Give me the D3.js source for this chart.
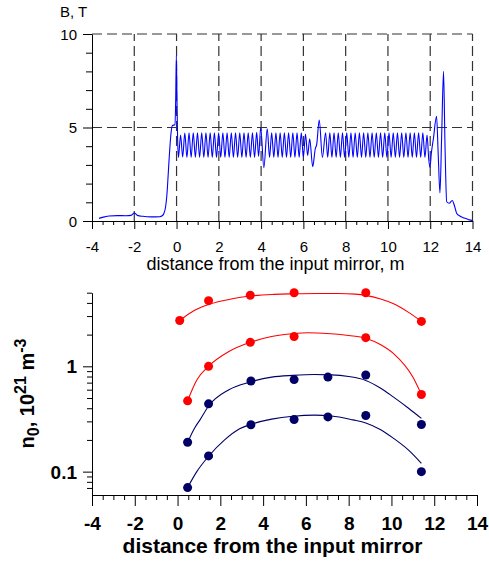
<!DOCTYPE html>
<html><head><meta charset="utf-8">
<script src="https://cdn.jsdelivr.net/npm/d3@7"></script>
<style>body{margin:0;background:#fff} svg{display:block}</style>
</head><body><svg id="c" width="489" height="563"></svg>
<script>
const FONT = '"Liberation Sans", Arial, sans-serif';

// ---------- top panel: magnetic field profile B(z) ----------
const fieldProfile = [
 [-3.67,0.14],[-3.4,0.22],[-3.2,0.27],[-2.8,0.29],[-2.4,0.28],[-2.15,0.3],[-2.0,0.43],[-1.85,0.3],
 [-1.6,0.25],[-1.2,0.22],[-0.8,0.23],[-0.68,0.28],[-0.6,0.4],[-0.52,0.75],[-0.45,1.5],[-0.4,2.4],
 [-0.33,3.7],[-0.27,4.6],[-0.2,5.1],[-0.08,5.15],[-0.04,6.5],[-0.01,8.85],[0.02,6.5],[0.05,4.4],
 [0.09,3.4],[0.19,4.6],[0.29,3.42],[0.39,4.7],[0.49,3.4],[0.59,4.72],[0.69,3.4],[0.79,4.72],
 [0.89,3.4],[0.99,4.72],[1.09,3.4],[1.19,4.72],[1.29,3.4],[1.39,4.72],[1.49,3.4],[1.59,4.72],
 [1.69,3.4],[1.79,4.72],[1.89,3.4],[1.99,4.72],[2.09,3.4],[2.19,4.72],[2.29,3.4],[2.39,4.72],
 [2.49,3.4],[2.59,4.72],[2.69,3.4],[2.79,4.72],[2.89,3.4],[2.99,4.72],[3.09,3.4],[3.19,4.72],
 [3.29,3.4],[3.39,4.72],[3.49,3.4],[3.59,4.72],[3.69,3.4],[3.79,4.75],[3.88,3.45],[3.98,5.0],
 [4.13,2.85],[4.29,4.93],[4.4,3.4],[4.5,4.72],[4.6,3.4],[4.7,4.72],[4.8,3.4],[4.9,4.72],
 [5.0,3.4],[5.1,4.72],[5.2,3.4],[5.3,4.72],[5.4,3.4],[5.5,4.72],[5.6,3.4],[5.7,4.72],
 [5.8,3.4],[5.9,4.72],[6.0,3.42],[6.1,4.65],[6.2,3.5],[6.3,4.4],[6.44,2.9],[6.56,3.85],
 [6.63,4.1],[6.75,5.4],[6.9,3.4],[7.05,4.72],[7.15,3.4],[7.25,4.72],[7.35,3.4],[7.45,4.72],
 [7.55,3.4],[7.65,4.72],[7.75,3.4],[7.85,4.72],[7.95,3.4],[8.05,4.72],[8.15,3.4],[8.25,4.72],
 [8.35,3.4],[8.45,4.72],[8.55,3.4],[8.65,4.72],[8.75,3.4],[8.85,4.72],[8.95,3.4],[9.05,4.72],
 [9.15,3.4],[9.25,4.72],[9.35,3.4],[9.45,4.72],[9.55,3.4],[9.65,4.72],[9.75,3.4],[9.85,4.72],
 [9.95,3.4],[10.05,4.72],[10.15,3.4],[10.25,4.72],[10.35,3.4],[10.45,4.72],[10.55,3.4],[10.65,4.72],
 [10.75,3.4],[10.85,4.72],[10.95,3.4],[11.05,4.72],[11.15,3.4],[11.25,4.72],[11.35,3.4],[11.45,4.72],
 [11.55,3.4],[11.65,4.72],[11.75,3.4],[11.85,4.6],[11.93,3.3],[11.99,2.87],[12.05,3.6],[12.15,4.4],
 [12.3,5.6],[12.38,3.5],[12.46,1.5],[12.54,4.5],[12.63,8.0],[12.7,4.0],[12.78,1.03],[12.9,0.95],
 [13.04,1.1],[13.15,0.8],[13.25,0.42],[13.4,0.27],[13.56,0.18],[13.72,0.12],[13.85,0.06],[14.0,0.02]
];
const topXTicks = [-4,-2,0,2,4,6,8,10,12,14];
const topYTicks = [0,5,10];
const topYMinor = [1,2,3,4,6,7,8,9];

// ---------- bottom panel: density n0 ----------
const redUpperPts = [[0.1,2.72],[1.45,4.2],[3.4,4.73],[5.45,5.0],[8.8,5.0],[11.4,2.67]];
const redLowerPts = [[0.47,0.47],[1.45,1.0],[3.4,1.69],[5.45,1.92],[8.8,1.87],[11.4,0.54]];
const blueUpperPts = [[0.47,0.19],[1.45,0.44],[3.43,0.726],[5.45,0.748],[7.03,0.79],[8.8,0.827],[11.4,0.28]];
const blueLowerPts = [[0.47,0.0706],[1.45,0.141],[3.43,0.279],[5.45,0.313],[7.03,0.331],[8.8,0.341],[11.4,0.1]];

const redUpperFit = [[0.1,2.72],[0.8,3.4],[1.45,3.86],[2.5,4.35],[3.4,4.65],[4.5,4.82],[5.4,4.88],[6.5,4.92],[7.5,4.92],[8.3,4.85],[8.8,4.72],[9.5,4.35],[10.1,3.92],[10.8,3.25],[11.4,2.67]];
const redLowerFit = [[0.47,0.47],[0.9,0.74],[1.45,1.0],[2.4,1.38],[3.4,1.69],[4.4,1.92],[5.4,2.04],[6.1,2.08],[7.0,2.05],[8.0,1.96],[8.8,1.85],[9.5,1.6],[10.1,1.32],[11.0,0.79],[11.4,0.54]];
const blueUpperFit = [[0.47,0.19],[0.8,0.26],[1.05,0.31],[1.45,0.42],[2.4,0.6],[3.4,0.71],[4.4,0.79],[5.4,0.82],[6.4,0.835],[7.2,0.83],[8.0,0.8],[8.8,0.735],[9.5,0.62],[10.1,0.51],[10.8,0.4],[11.4,0.32]];
const blueLowerFit = [[0.47,0.0706],[0.9,0.1],[1.45,0.14],[2.2,0.2],[2.9,0.255],[3.4,0.28],[4.4,0.315],[5.4,0.336],[6.4,0.344],[7.2,0.338],[8.2,0.31],[8.8,0.29],[9.5,0.25],[10.1,0.207],[10.8,0.16],[11.4,0.12]];

const botXTicks = [-4,-2,0,2,4,6,8,10,12,14];
const botYTicks = [0.1,1];
const botYMinor = [0.07,0.08,0.09,0.2,0.3,0.4,0.5,0.6,0.7,0.8,0.9,2,3,4,5];

const svg = d3.select("#c");

// ===== TOP =====
const xT = d3.scaleLinear().domain([-4,14]).range([92,472.5]);
const yT = d3.scaleLinear().domain([0,10]).range([221,34]);

const grid = svg.append("g").attr("stroke","#333").attr("stroke-width",1.2).attr("stroke-dasharray","10,5");
grid.selectAll("line.v").data(topXTicks.slice(1)).join("line")
  .attr("x1",d=>xT(d)).attr("x2",d=>xT(d)).attr("y1",yT(0)).attr("y2",yT(10));
grid.selectAll("line.h").data([5,10]).join("line")
  .attr("x1",xT(-4)).attr("x2",xT(14)).attr("y1",d=>yT(d)).attr("y2",d=>yT(d));

function styleAxis(g, size, bold){
  g.attr("font-family",FONT).attr("font-size",size).attr("font-weight",bold?"bold":null);
  g.selectAll("path,line").attr("stroke","#000").attr("stroke-width",1);
  g.selectAll("text").attr("fill","#000");
}

const topMinorX = d3.range(-4,14.01,0.5).filter(v=>Math.abs(v%2)>0.01);
svg.append("g").attr("transform",`translate(0,${yT(0)})`)
  .call(d3.axisBottom(xT).tickValues(topMinorX).tickSize(4).tickSizeOuter(0).tickFormat(""))
  .call(g=>{g.select(".domain").remove(); styleAxis(g,15);});
svg.append("g").attr("transform",`translate(0,${yT(0)})`)
  .call(d3.axisBottom(xT).tickValues(topXTicks).tickSize(8).tickSizeOuter(0).tickFormat(d=>String(d)))
  .call(g=>{styleAxis(g,15); g.selectAll("text").attr("y",31).attr("dy",null);});

svg.append("g").attr("transform",`translate(${xT(-4)},0)`)
  .call(d3.axisLeft(yT).tickValues(topYMinor).tickSize(6).tickSizeOuter(0).tickFormat(""))
  .call(g=>{g.select(".domain").remove(); styleAxis(g,15);});
svg.append("g").attr("transform",`translate(${xT(-4)},0)`)
  .call(d3.axisLeft(yT).tickValues(topYTicks).tickSize(9).tickSizeOuter(0).tickFormat(d=>String(d)))
  .call(g=>{styleAxis(g,15); g.selectAll("text").attr("x",-15).attr("dy","0.35em");});

svg.append("path").datum(fieldProfile)
  .attr("fill","none").attr("stroke","#0000ff").attr("stroke-width",1.1)
  .attr("d",d3.line().x(d=>xT(d[0])).y(d=>yT(d[1])).curve(d3.curveMonotoneX));

svg.append("text").attr("x",60).attr("y",17).attr("font-family",FONT).attr("font-size",15).text("B, T");
svg.append("text").attr("x",275.5).attr("y",270).attr("text-anchor","middle")
  .attr("font-family",FONT).attr("font-size",18).text("distance from the input mirror, m");

// ===== BOTTOM =====
const xB = d3.scaleLinear().domain([-4,14]).range([92,477]);
const yB = d3.scaleLog().domain([0.06,5]).range([495,292.7]);

const botMinorX = d3.range(-4,14.01,0.5).filter(v=>Math.abs(v%2)>0.01);
svg.append("g").attr("transform",`translate(0,495)`)
  .call(d3.axisBottom(xB).tickValues(botMinorX).tickSize(5).tickSizeOuter(0).tickFormat(""))
  .call(g=>{g.select(".domain").remove(); styleAxis(g,19,true);});
svg.append("g").attr("transform",`translate(0,495)`)
  .call(d3.axisBottom(xB).tickValues(botXTicks).tickSize(11).tickSizeOuter(0).tickFormat(d=>String(d)))
  .call(g=>{styleAxis(g,19,true); g.selectAll("text").attr("y",35).attr("dy",null);});

svg.append("g").attr("transform",`translate(${xB(-4)},0)`)
  .call(d3.axisLeft(yB).tickValues(botYMinor).tickSize(5).tickSizeOuter(0).tickFormat(""))
  .call(g=>{g.select(".domain").remove(); styleAxis(g,19,true);});
svg.append("g").attr("transform",`translate(${xB(-4)},0)`)
  .call(d3.axisLeft(yB).tickValues(botYTicks).tickSize(9).tickSizeOuter(0).tickFormat(d=>String(d)))
  .call(g=>{styleAxis(g,19,true); g.selectAll("text").attr("x",-15).attr("dy","0.35em");});

const fitLine = d3.line().x(d=>xB(d[0])).y(d=>yB(d[1])).curve(d3.curveMonotoneX);
const series = [
  {fit:redUpperFit, pts:redUpperPts, color:"#ff0000"},
  {fit:redLowerFit, pts:redLowerPts, color:"#ff0000"},
  {fit:blueUpperFit, pts:blueUpperPts, color:"#000066"},
  {fit:blueLowerFit, pts:blueLowerPts, color:"#000066"}
];
series.forEach(s=>{
  svg.append("path").datum(s.fit).attr("fill","none").attr("stroke",s.color).attr("stroke-width",1.1).attr("d",fitLine);
});
series.forEach(s=>{
  svg.append("g").selectAll("circle").data(s.pts).join("circle")
    .attr("cx",d=>xB(d[0])).attr("cy",d=>yB(d[1])).attr("r",4.5).attr("fill",s.color);
});

svg.append("text").attr("x",272.5).attr("y",553).attr("text-anchor","middle")
  .attr("font-family",FONT).attr("font-size",21).attr("font-weight","bold")
  .text("distance from the input mirror");

const yl = svg.append("text").attr("transform","translate(34,393.5) rotate(-90)")
  .attr("text-anchor","middle").attr("font-family",FONT).attr("font-size",20).attr("font-weight","bold");
yl.append("tspan").text("n");
yl.append("tspan").attr("font-size",16).attr("dy",5).text("0");
yl.append("tspan").attr("dy",-5).text(", 10");
yl.append("tspan").attr("font-size",16).attr("dy",-8).text("21");
yl.append("tspan").attr("dy",8).text(" m");
yl.append("tspan").attr("font-size",16).attr("dy",-8).text("-3");
</script>
</body></html>
